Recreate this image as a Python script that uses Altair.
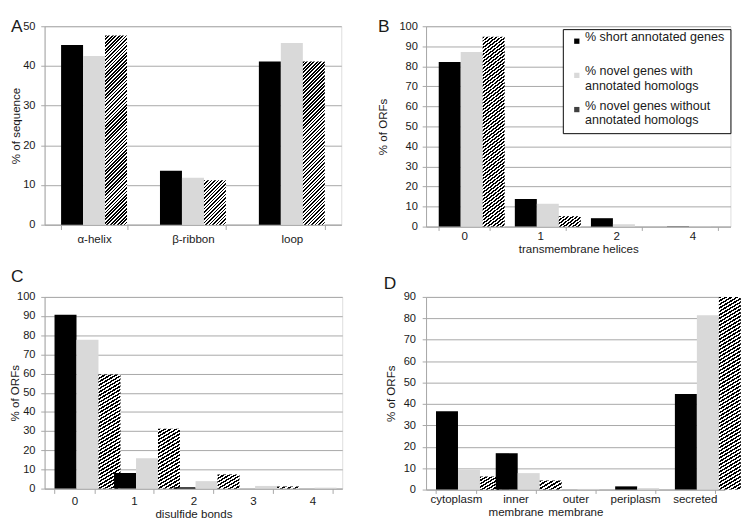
import altair as alt
import pandas as pd

FONT = "Liberation Sans"
TEXT = "#1a1a1a"
GRID = "#a6a6a6"

SERIES = [
    "% short annotated genes",
    "% novel genes with annotated homologs",
    "% novel genes without annotated homologs",
]
COLORS = ["#000000", "#d9d9d9", "#404040"]

# Panel A: secondary structure
a_cats = ["α-helix", "β-ribbon", "loop"]
a_short = [45.3, 13.6, 41.1]
a_with = [42.5, 11.8, 45.8]
a_without = [47.7, 11.2, 41.1]

# Panel B: transmembrane helices
b_cats = ["0", "1", "2", "4"]
b_short = [82.2, 13.8, 4.2, 0.2]
b_with = [87.1, 11.4, 1.2, 0.1]
b_without = [94.8, 5.2, 0.0, 0.0]

# Panel C: disulfide bonds
c_cats = ["0", "1", "2", "3", "4"]
c_short = [90.7, 8.2, 0.7, 0.0, 0.0]
c_with = [77.6, 15.9, 3.9, 1.4, 0.5]
c_without = [59.6, 31.2, 7.4, 1.1, 0.0]

# Panel D: localization
d_cats = ["cytoplasm", "inner membrane", "outer membrane", "periplasm", "secreted"]
d_short = [36.6, 17.0, 0.0, 1.5, 44.6]
d_with = [9.2, 7.7, 0.3, 0.7, 81.5]
d_without = [6.1, 4.3, 0.0, 0.0, 90.0]


def frame(cats, series_vals):
    rows = []
    for ci, c in enumerate(cats):
        for si, vals in enumerate(series_vals):
            rows.append({"cat": c, "ci": ci, "series": SERIES[si], "si": si, "value": vals[ci]})
    return pd.DataFrame(rows)


def hatch_fill(w, h, period=3.6):
    # diagonal "/" stripes at 45 degrees in screen space, expressed in bbox units
    s = (w + h) / (w * w + h * h)
    n = max(1, int(round((w + h) / period)))
    stops = []
    for k in range(n):
        o1 = k / n
        o2 = (k + 0.5) / n
        o3 = (k + 1) / n
        stops += [
            {"offset": round(o1, 5), "color": "#000000"},
            {"offset": round(o2, 5), "color": "#000000"},
            {"offset": round(o2, 5), "color": "#ffffff"},
            {"offset": round(o3, 5), "color": "#ffffff"},
        ]
    return {"gradient": "linear", "x1": 0, "y1": 0, "x2": w * s, "y2": h * s, "stops": stops}


def panel(letter, cats, series_vals, ymax, W, H, ytitle, yR, ylp,
          xtitle, xR, xts, xlp, lx, ly, legend=None, multiline=False):
    df = frame(cats, series_vals)
    bar_w = 2.0 * W / (9.0 * len(cats))
    conds = []
    for ci, v in enumerate(series_vals[2]):
        h = v / ymax * H
        if h >= 1.5:
            conds.append({"test": f"datum.si == 2 && datum.ci == {ci}",
                          "value": hatch_fill(bar_w, h)})
    fill_kw = dict(scale=alt.Scale(domain=SERIES, range=COLORS), legend=legend)
    if conds:
        fill_kw["condition"] = conds
    fill = alt.Fill("series:N", **fill_kw)

    yaxis = alt.Axis(
        title=ytitle, values=list(range(0, ymax + 1, 10)), grid=True,
        gridColor=GRID, gridWidth=1, domainColor=GRID, tickColor=GRID, tickSize=4,
        labelPadding=ylp, labelFontSize=11.5, labelColor=TEXT, labelFont=FONT,
        titleFont=FONT, titleFontSize=12, titleFontWeight="normal", titleColor=TEXT,
        titlePadding=0, minExtent=yR, maxExtent=yR,
    )
    xkw = dict(
        title=xtitle, labelAngle=0, tickBand="extent", domainColor=GRID, tickColor=GRID,
        tickSize=xts, labelPadding=xlp, labelFontSize=12, labelColor=TEXT, labelFont=FONT,
        titleFont=FONT, titleFontSize=12, titleFontWeight="normal", titleColor=TEXT,
        titlePadding=0, minExtent=xR, maxExtent=xR, grid=False,
    )
    if multiline:
        xkw["labelExpr"] = "split(datum.label, ' ')"
        xkw["labelLineHeight"] = 14
    xaxis = alt.Axis(**xkw)

    bars = alt.Chart(df).mark_bar().encode(
        x=alt.X("cat:N", sort=cats,
                scale=alt.Scale(domain=cats, paddingInner=1 / 3, paddingOuter=1 / 6),
                axis=xaxis),
        xOffset=alt.XOffset("series:N", sort=SERIES,
                            scale=alt.Scale(domain=SERIES, paddingInner=0, paddingOuter=0)),
        y=alt.Y("value:Q", scale=alt.Scale(domain=[0, ymax], nice=False, zero=True), axis=yaxis),
        fill=fill,
    )
    lab = alt.Chart(pd.DataFrame({"t": [letter]})).mark_text(
        align="left", baseline="top", fontSize=18, font=FONT, color=TEXT
    ).encode(text="t:N", x=alt.value(lx), y=alt.value(ly))
    return alt.layer(bars, lab).properties(width=W, height=H)


legend_b = alt.Legend(
    title=None, orient="none", legendX=142, legendY=3, direction="vertical",
    fillColor="white", strokeColor="black", padding=6,
    symbolType="square", symbolSize=30, symbolStrokeWidth=0, symbolOffset=2,
    labelFont=FONT, labelFontSize=13, labelColor=TEXT, labelLimit=400, labelOffset=2,
    labelBaseline="alphabetic", rowPadding=6.5,
    labelExpr="indexof(datum.label, 'homologs') < 0 ? [datum.label, ' '] : "
              "split(replace(datum.label, ' annotated', '|annotated'), '|')",
)

pA = panel("A", a_cats, [a_short, a_with, a_without], 50, 308, 206,
           "% of sequence", 23, 6, None, 20, 5, 5, -35, -8)
pB = panel("B", b_cats, [b_short, b_with, b_without], 100, 316, 208,
           "% of ORFs", 38, 5, "transmembrane helices", 18, 4, 0, -50, -8, legend=legend_b)
pC = panel("C", c_cats, [c_short, c_with, c_without], 100, 309, 199,
           "% of ORFs", 24, 6, "disulfide bonds", 21, 5, 3, -35, -29)
pD = panel("D", d_cats, [d_short, d_with, d_without], 90, 310, 200,
           "% of ORFs", 30, 7, None, 20, 4, 0, -44, -22, multiline=True)

chart = alt.concat(
    pA, pB, pC, pD, columns=2, bounds="flush", align="each",
    spacing={"row": 73, "column": 87},
).resolve_scale(fill="independent").properties(padding=0).configure_view(
    stroke=None
).configure(font=FONT)

chart.save("out.html", embed_options={"renderer": "svg", "actions": False})
